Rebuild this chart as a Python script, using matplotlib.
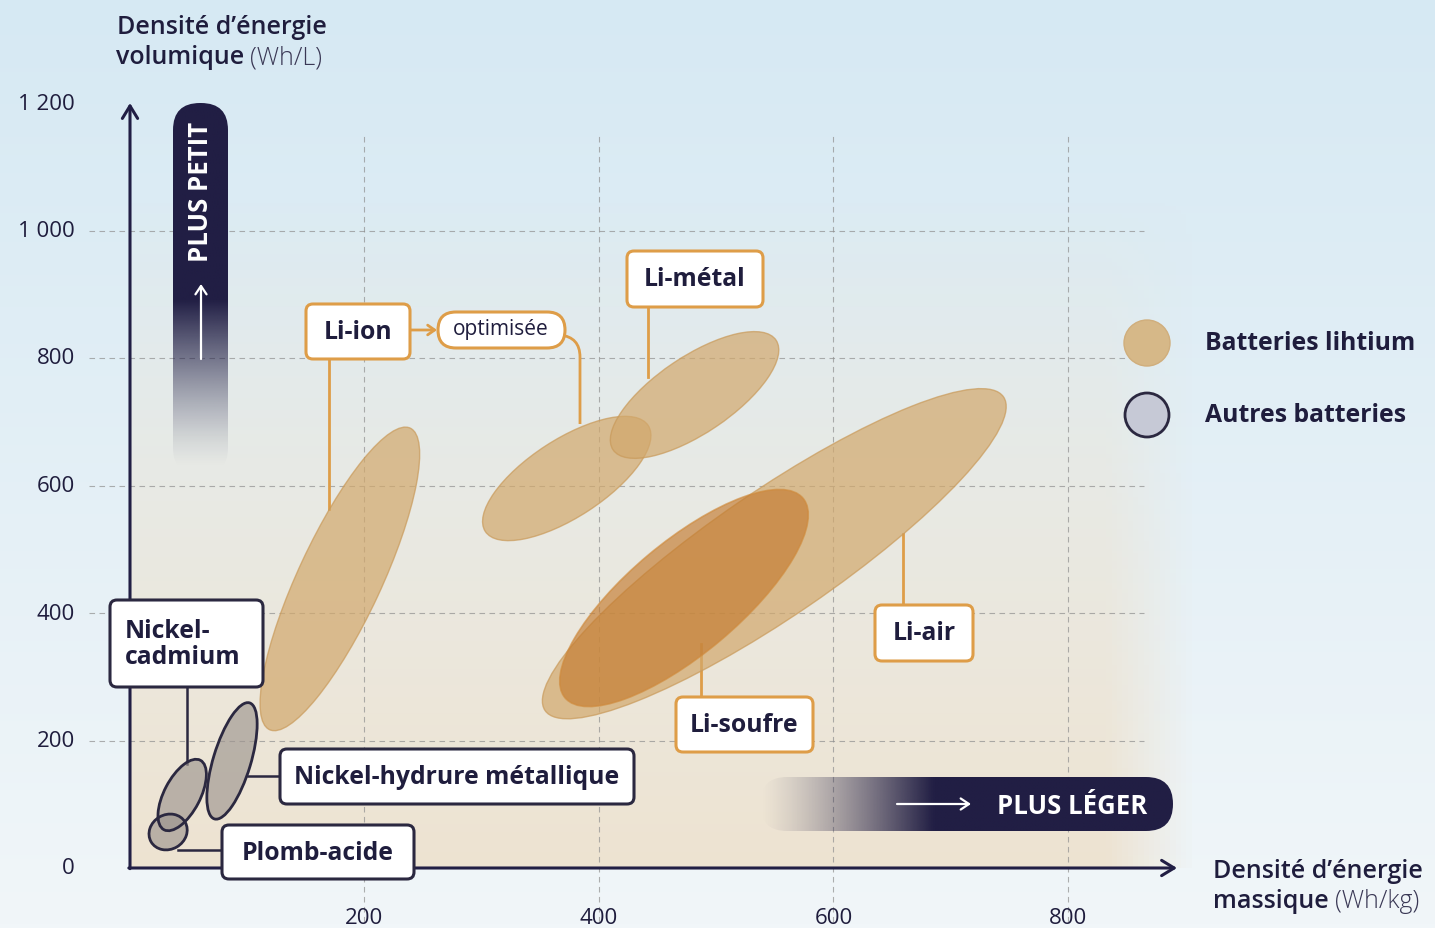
import numpy as np
import matplotlib.pyplot as plt
from matplotlib.patches import Ellipse, FancyBboxPatch, Circle, PathPatch
from matplotlib.path import Path
from matplotlib.transforms import Affine2D
from matplotlib.colors import to_rgb

plt.rcParams['font.family'] = ['Open Sans', 'DejaVu Sans']

# --- data ---------------------------------------------------------------
x_ticks = [200, 400, 600, 800]
y_ticks = [0, 200, 400, 600, 800, 1000, 1200]
y_tick_labels = ['0', '200', '400', '600', '800', '1 000', '1 200']

# lithium families: major-axis end points (Wh/kg, Wh/L) + minor/major ratio
lithium_names = ['Li-ion', 'Li-ion optimisée', 'Li-métal', 'Li-air', 'Li-soufre']
lithium_lo = [(119, 217), (303, 528), (412, 656), (354, 247), (371, 267)]
lithium_hi = [(239, 690), (442, 694), (551, 828), (745, 739), (574, 580)]
lithium_ratio = [0.25, 0.40, 0.39, 0.225, 0.36]

other_names = ['Nickel-cadmium', 'Nickel-hydrure métallique', 'Plomb-acide']
other_lo = [(29, 60), (72, 77), (18, 41)]
other_hi = [(60, 169), (102, 259), (47, 72)]
other_ratio = [0.46, 0.31, 0.88]

# --- layout ---------------------------------------------------------------
W, H, DPI = 1435, 929, 100
X0_PX, Y0_PX = 130, 869          # pixel position of the origin
KX, KY = 1.1725, 0.6375          # pixels per data unit
XMIN, XMAX = -X0_PX / KX, (W - X0_PX) / KX
YMIN, YMAX = -(H - Y0_PX) / KY, Y0_PX / KY

NAVY = '#211e44'
TEXT = '#1f1d3d'
ORANGE = '#de9d48'
LI_FILL = '#d2a86c'
LI_EDGE = '#c99a5a'
SOUFRE_FILL = '#c47a2e'
OTHER_FILL = '#9d958f'
GRID = '#8f8f8f'
LBL = 17.8

fig = plt.figure(figsize=(W / DPI, H / DPI), dpi=DPI)
ax = fig.add_axes([0, 0, 1, 1])
ax.axis('off')
ax.set_xlim(XMIN, XMAX)
ax.set_ylim(YMIN, YMAX)

# pixel coords (origin top-left) for decorations
pix = Affine2D().scale(1 / DPI, -1 / DPI).translate(0, H / DPI) + fig.dpi_scale_trans
# data scaled to pixel units, so ellipse angles look right
sc = Affine2D().scale(1 / KX, 1 / KY) + ax.transData

# background
top, bot = np.array(to_rgb('#d6e9f3')), np.array(to_rgb('#f1f6f9'))
t = np.linspace(0, 1, 256)[:, None]
bg = top * (1 - t) + bot * t
ax.imshow(bg[:, None, :].repeat(2, axis=1), extent=(XMIN, XMAX, YMIN, YMAX),
          aspect='auto', zorder=0, origin='upper')

# beige wash inside the plot area
ny, nx = 200, 200
yy = np.linspace(0, 1250, ny)[:, None]
xx = np.linspace(0, 910, nx)[None, :]
alpha = np.clip(1 - yy / 1050, 0, 1) ** 0.9 * np.clip((910 - xx) / 75, 0, 1)
beige = np.zeros((ny, nx, 4))
beige[..., :3] = to_rgb('#ede2cf')
beige[..., 3] = alpha * 0.95
ax.imshow(beige, extent=(0, 910, 0, 1250), origin='lower', aspect='auto', zorder=0.5)

# grid
for yv in y_ticks[1:-1]:
    ax.plot([-35, 865], [yv, yv], color=GRID, lw=0.8, ls=(0, (5, 4)), alpha=0.7, zorder=1)
for xv in x_ticks:
    ax.plot([xv, xv], [-85, 1150], color=GRID, lw=0.8, ls=(0, (5, 4)), alpha=0.7, zorder=1)

# axes with open arrow heads
arr = dict(arrowstyle='->,head_length=0.9,head_width=0.55', lw=2.2, color=NAVY,
           shrinkA=0, shrinkB=0)
ax.annotate('', xy=(0, 1200), xytext=(0, -1), arrowprops=arr, zorder=3)
ax.annotate('', xy=(893, 0), xytext=(-1, 0), arrowprops=arr, zorder=3)

for yv, lab in zip(y_ticks, y_tick_labels):
    ax.text(-47, yv, lab, ha='right', va='center', fontsize=16, color=TEXT)
for xv in x_ticks:
    ax.text(xv, -78, str(xv), ha='center', va='center', fontsize=16, color=TEXT)

renderer = fig.canvas.get_renderer()


def two_part(x, y, bold, light):
    t1 = ax.text(x, y, bold, transform=pix, fontsize=18, color=TEXT,
                 ha='left', va='center', fontweight='semibold')
    bb = t1.get_window_extent(renderer)
    ax.text(bb.x1 + 6, bb.y0 + bb.height / 2, light, transform=None, fontsize=18,
            color='#3a3855', ha='left', va='center', fontweight='light')


ax.text(117, 28, 'Densité d’énergie', transform=pix, fontsize=18, color=TEXT,
        ha='left', va='center', fontweight='semibold')
two_part(116, 58, 'volumique', '(Wh/L)')
ax.text(1213, 871, 'Densité d’énergie', transform=pix, fontsize=18, color=TEXT,
        ha='left', va='center', fontweight='semibold')
two_part(1213, 902, 'massique', '(Wh/kg)')


# gradient bars
def gradient_bar(x, y, w, h, vertical):
    n = 256
    s = np.linspace(0, 1, n)
    if vertical:
        a = np.clip((0.98 - s) / 0.45, 0, 1) ** 1.3   # top solid, fades down
        img = np.zeros((n, 2, 4))
        img[..., :3] = to_rgb(NAVY)
        img[:, :, 3] = a[:, None]
    else:
        a = np.clip(s / 0.42, 0, 1) ** 1.3           # fades in from the left
        img = np.zeros((2, n, 4))
        img[..., :3] = to_rgb(NAVY)
        img[:, :, 3] = a[None, :]
    box = FancyBboxPatch((x, y), w, h, boxstyle='round,pad=0,rounding_size=%d' % (min(w, h) // 2),
                         transform=pix, fc='none', ec='none')
    ax.add_patch(box)
    d0 = (XMIN + x / KX, YMAX - (y + h) / KY)
    d1 = (XMIN + (x + w) / KX, YMAX - y / KY)
    im = ax.imshow(img, extent=(d0[0], d1[0], d0[1], d1[1]), origin='upper',
                   aspect='auto', zorder=2, interpolation='bilinear')
    im.set_clip_path(box)


gradient_bar(173, 104, 55, 372, True)
ax.text(201, 192, 'PLUS PETIT', transform=pix, rotation=90, color='white',
        fontsize=18.5, fontweight='bold', ha='center', va='center', zorder=3)
ax.annotate('', xy=(201, 285), xytext=(201, 360), xycoords=pix, textcoords=pix,
            arrowprops=dict(arrowstyle='->,head_length=0.6,head_width=0.4', lw=1.6,
                            color='white', shrinkA=0, shrinkB=0), zorder=3)

gradient_bar(760, 778, 413, 54, False)
ax.text(1072, 806, 'PLUS LÉGER', transform=pix, color='white', fontsize=18.5,
        fontweight='bold', ha='center', va='center', zorder=3)
ax.annotate('', xy=(971, 805), xytext=(897, 805), xycoords=pix, textcoords=pix,
            arrowprops=dict(arrowstyle='->,head_length=0.6,head_width=0.4', lw=1.6,
                            color='white', shrinkA=0, shrinkB=0), zorder=3)


# ellipses
def draw_ellipse(lo, hi, ratio, **kw):
    u0, v0 = lo[0] * KX, lo[1] * KY
    u1, v1 = hi[0] * KX, hi[1] * KY
    length = np.hypot(u1 - u0, v1 - v0)
    ang = np.degrees(np.arctan2(v1 - v0, u1 - u0))
    e = Ellipse(((u0 + u1) / 2, (v0 + v1) / 2), length, length * ratio, angle=ang,
                transform=sc, **kw)
    ax.add_patch(e)


for name, lo, hi, r in zip(lithium_names, lithium_lo, lithium_hi, lithium_ratio):
    if name == 'Li-soufre':
        draw_ellipse(lo, hi, r, fc=SOUFRE_FILL, ec='#cf8a3c', lw=1.2, alpha=0.65, zorder=4.5)
    else:
        draw_ellipse(lo, hi, r, fc=LI_FILL, ec=LI_EDGE, lw=1.0, alpha=0.7, zorder=4)

for lo, hi, r in zip(other_lo, other_hi, other_ratio):
    draw_ellipse(lo, hi, r, fc=OTHER_FILL, ec='none', alpha=0.65, zorder=4)
    draw_ellipse(lo, hi, r, fc='none', ec='#2b2840', lw=2, zorder=4.2)

# leader lines
li_lines = [((329, 360), (329, 510)), ((648, 308), (648, 378)),
            ((903, 606), (903, 535)), ((701, 698), (701, 645))]
for a, b in li_lines:
    ax.plot([a[0], b[0]], [a[1], b[1]], transform=pix, color=ORANGE, lw=2, zorder=3.5)
ot_lines = [((187, 688), (187, 765)), ((280, 777), (248, 777)), ((222, 851), (178, 851))]
for a, b in ot_lines:
    ax.plot([a[0], b[0]], [a[1], b[1]], transform=pix, color='#2b2840', lw=1.8, zorder=3.5)

curve = Path([(560, 336), (580, 338), (580, 358), (580, 425)],
             [Path.MOVETO, Path.CURVE3, Path.CURVE3, Path.LINETO])
ax.add_patch(PathPatch(curve, transform=pix, fc='none', ec=ORANGE, lw=2, zorder=3.5))
ax.annotate('', xy=(437, 331), xytext=(411, 331), xycoords=pix, textcoords=pix,
            arrowprops=dict(arrowstyle='->,head_length=0.5,head_width=0.35', lw=2,
                            color=ORANGE, shrinkA=0, shrinkB=0), zorder=3.5)

# label boxes (pixel boxes: text, left, top, width, height, edge colour)
labels = [
    ('Li-ion', 306, 305, 104, 55, ORANGE),
    ('Li-métal', 627, 252, 136, 56, ORANGE),
    ('Li-air', 875, 606, 98, 56, ORANGE),
    ('Li-soufre', 676, 698, 137, 55, ORANGE),
    ('Nickel-\ncadmium', 110, 601, 153, 87, '#2b2840'),
    ('Nickel-hydrure métallique', 280, 750, 354, 55, '#2b2840'),
    ('Plomb-acide', 222, 826, 192, 54, '#2b2840'),
]
for txt, x, y, w, h, ec in labels:
    ax.add_patch(FancyBboxPatch((x, y), w, h, boxstyle='round,pad=0,rounding_size=7',
                                transform=pix, fc='white', ec=ec, lw=2.2, zorder=6))
    if '\n' in txt:
        ax.text(x + 15, y + h / 2, txt, transform=pix, ha='left', va='center',
                fontsize=LBL, fontweight='bold', color=TEXT, linespacing=1.05, zorder=7)
    else:
        ax.text(x + w / 2, y + h / 2, txt, transform=pix, ha='center', va='center',
                fontsize=LBL, fontweight='bold', color=TEXT, zorder=7)

ax.add_patch(FancyBboxPatch((438, 313), 127, 36, boxstyle='round,pad=0,rounding_size=18',
                            transform=pix, fc='white', ec=ORANGE, lw=2.2, zorder=6))
ax.text(501, 330, 'optimisée', transform=pix, ha='center', va='center', fontsize=15,
        color=TEXT, zorder=7)

# legend
ax.add_patch(Circle((1147, 344), 23, transform=pix, fc='#d6b888', ec='#d0ae7c', lw=1, zorder=6))
ax.add_patch(Circle((1147, 416), 22, transform=pix, fc='#c6c9d6', ec='#2b2840', lw=2, zorder=6))
ax.text(1205, 343, 'Batteries lihtium', transform=pix, ha='left', va='center',
        fontsize=LBL, fontweight='bold', color=TEXT)
ax.text(1205, 415, 'Autres batteries', transform=pix, ha='left', va='center',
        fontsize=LBL, fontweight='bold', color=TEXT)

fig.savefig('out.png', dpi=DPI)
